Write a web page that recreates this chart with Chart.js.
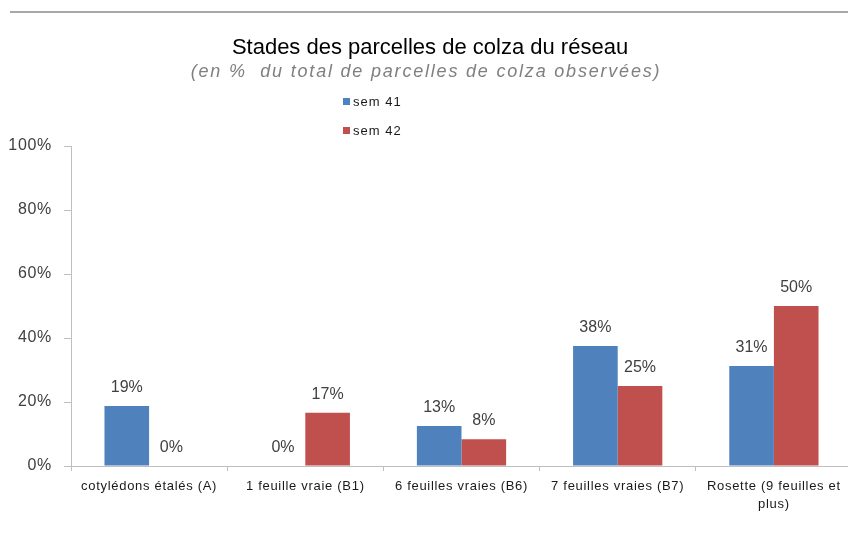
<!DOCTYPE html>
<html>
<head>
<meta charset="utf-8">
<script src="https://cdn.jsdelivr.net/npm/chart.js@4"></script>
<style>
    html, body { margin: 0; padding: 0; background: #fff; overflow: hidden; }
    #wrap { position: relative; width: 848px; height: 540px; overflow: hidden; }
    #topline { position: absolute; left: 10px; top: 11px; width: 838px; height: 0; border-top: 2px solid #a8a8a8; }
    .title { position: absolute; left: 0; width: 860px; text-align: center; white-space: pre; font-family: "Liberation Sans", Arial, sans-serif; }
    #t1 { top: 34px; font-size: 22px; line-height: 26px; color: #000; }
    #t2 { top: 60px; left: -4px; font-size: 18px; line-height: 22px; font-style: italic; color: #7f7f7f; letter-spacing: 1.8px; }
    .leg { position: absolute; left: 343px; font: 13px "Liberation Sans", Arial, sans-serif; letter-spacing: 1px; color: #1a1a1a; line-height: 16px; }
    .leg i { display: inline-block; width: 7px; height: 7px; margin-right: 3px; vertical-align: 1px; }
    #chartBox { position: absolute; left: 0; top: 0; width: 856px; height: 540px; }
</style>
</head>
<body>
<div id="wrap">
    <div id="topline"></div>
    <div id="chartBox"><canvas id="c" width="856" height="540"></canvas></div>
    <div class="title" id="t1"></div>
    <div class="title" id="t2"></div>
    <div class="leg" id="leg0" style="top:94px"></div>
    <div class="leg" id="leg1" style="top:123px"></div>
</div>
<script>
const chartTitle = 'Stades des parcelles de colza du réseau';
const chartSubtitle = '(en %  du total de parcelles de colza observées)';
const categories = [
    'cotylédons étalés (A)',
    '1 feuille vraie (B1)',
    '6 feuilles vraies (B6)',
    '7 feuilles vraies (B7)',
    ['Rosette (9 feuilles et', 'plus)']
];
const seriesNames = ['sem 41', 'sem 42'];
const sem41 = [18.75, 0, 12.5, 37.5, 31.25];
const sem42 = [0, 16.67, 8.33, 25, 50];
const yTicks = [0, 20, 40, 60, 80, 100];
const colors = ['#4F81BD', '#C0504D'];

document.getElementById('t1').textContent = chartTitle;
document.getElementById('t2').textContent = chartSubtitle;
seriesNames.forEach((name, i) => {
    const el = document.getElementById('leg' + i);
    el.innerHTML = `<i style="background:${colors[i]}"></i>`;
    el.appendChild(document.createTextNode(name));
});

const axisGrey = '#bfbfbf';

// draws the % value above each bar
const valueLabels = {
    id: 'valueLabels',
    beforeDraw(chart) { chart.ctx.letterSpacing = '0.7px'; },
    afterDatasetsDraw(chart) {
        const ctx = chart.ctx;
        ctx.save();
        ctx.letterSpacing = '0px';
        ctx.font = '16px "Liberation Sans", Arial, sans-serif';
        ctx.fillStyle = '#404040';
        ctx.textAlign = 'center';
        ctx.textBaseline = 'alphabetic';
        chart.data.datasets.forEach((ds, di) => {
            chart.getDatasetMeta(di).data.forEach((bar, i) => {
                ctx.fillText(Math.round(ds.data[i]) + '%', bar.x, bar.y - 14);
            });
        });
        ctx.restore();
    },
    afterDraw(chart) { chart.ctx.letterSpacing = '0px'; }
};

new Chart(document.getElementById('c').getContext('2d'), {
    type: 'bar',
    data: {
        labels: categories,
        datasets: [
            { label: seriesNames[0], data: sem41, backgroundColor: colors[0] },
            { label: seriesNames[1], data: sem42, backgroundColor: colors[1] }
        ]
    },
    options: {
        responsive: false,
        animation: { duration: 0 },
        devicePixelRatio: 1,
        categoryPercentage: 2 / 3.5,
        barPercentage: 1,
        layout: { padding: { top: 146, right: 4, bottom: 0, left: 0 } },
        plugins: { legend: { display: false }, tooltip: { enabled: false } },
        scales: {
            x: {
                afterFit: s => { s.height = 74; },
                grid: { offset: true, drawOnChartArea: false, tickLength: 5, color: axisGrey },
                border: { color: axisGrey, width: 1 },
                ticks: {
                    autoSkip: false, maxRotation: 0, padding: 6, color: '#1a1a1a',
                    font: { family: '"Liberation Sans", Arial, sans-serif', size: 13, lineHeight: 1.4 }
                }
            },
            y: {
                min: 0, max: 100,
                afterFit: s => { s.width = 71; },
                afterBuildTicks: s => { s.ticks = yTicks.map(v => ({ value: v })); },
                grid: { drawOnChartArea: false, tickLength: 7, color: axisGrey },
                border: { color: axisGrey, width: 1 },
                ticks: {
                    padding: 12, color: '#404040',
                    font: { family: '"Liberation Sans", Arial, sans-serif', size: 16 },
                    callback: v => v + '%'
                }
            }
        }
    },
    plugins: [valueLabels]
});
</script>
</body>
</html>
